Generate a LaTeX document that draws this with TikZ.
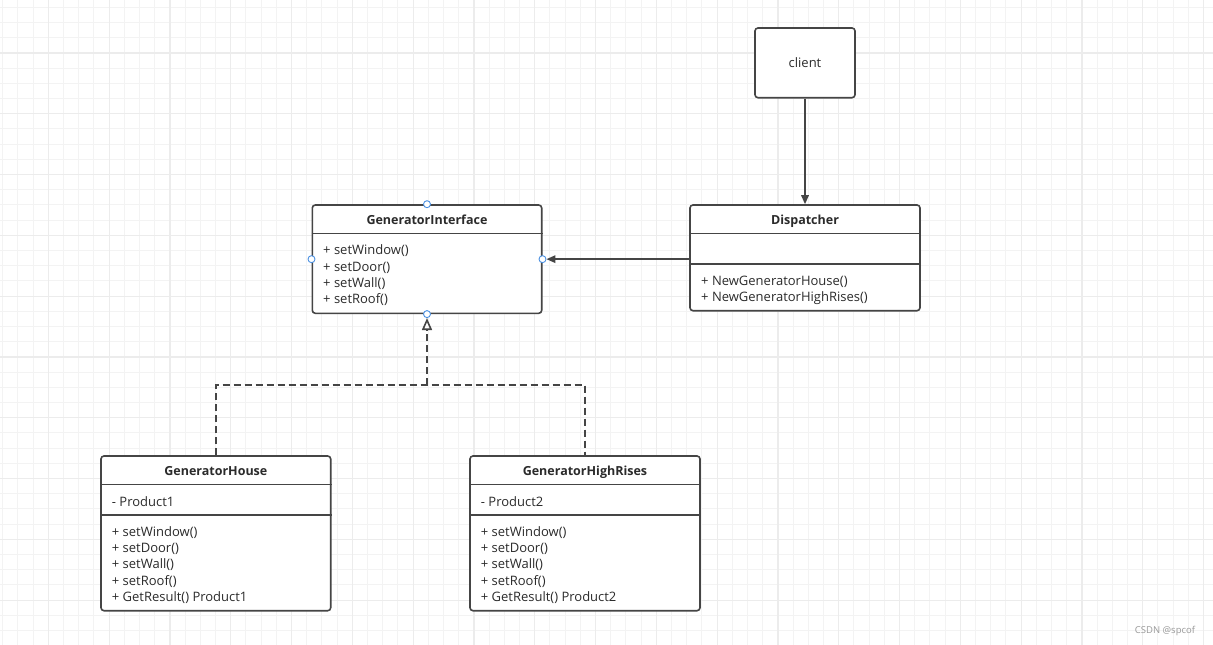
\documentclass[tikz,border=0pt]{standalone}
\usepackage{fontspec}
\setmainfont{Open Sans}
\usetikzlibrary{arrows.meta,positioning}
\definecolor{linegray}{HTML}{454545}
\definecolor{textgray}{HTML}{2B2B2B}
\definecolor{gridminor}{HTML}{F3F3F3}
\definecolor{gridmajor}{HTML}{ECECEC}
\definecolor{handleblue}{HTML}{4A90E2}
\tikzset{>={Triangle[width=7.5pt,length=9pt]}}
\tikzset{
  classbox/.style={draw=linegray, line width=1.6pt, rounded corners=3pt,
    fill=white, inner sep=0pt},
  classname/.style={font=\bfseries\fontsize{12.5}{15}\selectfont, text=textgray,
    inner sep=0pt, text height=9.4pt, text depth=0pt},
  member/.style={font=\fontsize{13}{15}\selectfont, text=textgray, anchor=west,
    inner sep=0pt, text height=9.3pt, text depth=0pt},
  handle/.style={circle, draw=handleblue, fill=white, line width=0.9pt,
    minimum size=7pt, inner sep=0pt},
  assoc/.style={draw=linegray, line width=1.6pt},
  realize/.style={draw=linegray, line width=1.6pt, dash pattern=on 7pt off 4pt},
}

\begin{document}
\begin{tikzpicture}[x=1pt,y=-1pt]

  %% canvas
  \useasboundingbox[fill=white] (0,0) rectangle (1213,645);
  \foreach \gx in {2.7,17.9,...,1213} \draw[gridminor, line width=1pt] (\gx,0) -- (\gx,645);
  \foreach \gy in {7.3,22.5,...,645} \draw[gridminor, line width=1pt] (0,\gy) -- (1213,\gy);
  \foreach \gx in {48.3,109.1,...,1213} \draw[gridmajor, line width=1.2pt] (\gx,0) -- (\gx,645);
  \foreach \gy in {52.9,113.7,...,645} \draw[gridmajor, line width=1.2pt] (0,\gy) -- (1213,\gy);

  %% client
  \node[classbox, minimum width=100pt, minimum height=69.7pt] (client) at (805,62.85) {};
  \node[member, anchor=center] (client-name) at (client.center) {client};

  %% interface
  \node[classbox, minimum width=229.4pt, minimum height=108.3pt] (gi) at (427,259.15) {};
  \node[classname] (gi-name) at ([yshift=-15.6pt]gi.north) {GeneratorInterface};
  \draw[assoc] ([yshift=-29.3pt]gi.north west) -- ([yshift=-29.3pt]gi.north east);
  \foreach \m [count=\k] in {setWindow(), setDoor(), setWall(), setRoof()}
    \node[member] (gi-m\k) at (323,233.6+16.4*\k) {+ \m};

  %% dispatcher
  \node[classbox, minimum width=230pt, minimum height=105.7pt] (disp) at (805,257.85) {};
  \node[classname] (disp-name) at ([yshift=-15.6pt]disp.north) {Dispatcher};
  \draw[assoc] ([yshift=-29.3pt]disp.north west) -- ([yshift=-29.3pt]disp.north east);
  \draw[assoc] ([yshift=-59.7pt]disp.north west) -- ([yshift=-59.7pt]disp.north east);
  \node[member] (disp-m1) at (701,280.5) {+ NewGeneratorHouse()};
  \node[member] (disp-m2) at (701,297) {+ NewGeneratorHighRises()};

  %% concrete generators
  \node[classbox, minimum width=229.7pt, minimum height=154.7pt] (house) at (215.85,533.35) {};
  \node[classname] (house-name) at ([yshift=-15.3pt]house.north) {GeneratorHouse};
  \draw[assoc] ([yshift=-29.3pt]house.north west) -- ([yshift=-29.3pt]house.north east);
  \draw[assoc] ([yshift=-59.7pt]house.north west) -- ([yshift=-59.7pt]house.north east);
  \node[member] (house-a1) at (111.7,501.5) {- Product1};
  \foreach \m [count=\k] in {setWindow(), setDoor(), setWall(), setRoof(), GetResult() Product1}
    \node[member] (house-m\k) at (111.7,515+16.4*\k) {+ \m};

  \node[classbox, minimum width=230pt, minimum height=154.7pt] (high) at (585,533.35) {};
  \node[classname] (high-name) at ([yshift=-15.3pt]high.north) {GeneratorHighRises};
  \draw[assoc] ([yshift=-29.3pt]high.north west) -- ([yshift=-29.3pt]high.north east);
  \draw[assoc] ([yshift=-59.7pt]high.north west) -- ([yshift=-59.7pt]high.north east);
  \node[member] (high-a1) at (480.7,501.5) {- Product2};
  \foreach \m [count=\k] in {setWindow(), setDoor(), setWall(), setRoof(), GetResult() Product2}
    \node[member] (high-m\k) at (480.7,515+16.4*\k) {+ \m};

  %% handles
  \node[handle] (gi-ht) at (gi.north) {};
  \node[handle] (gi-hl) at (gi.west) {};
  \node[handle] (gi-hr) at (gi.east) {};
  \node[handle] (gi-hb) at (gi.south) {};

  %% connectors
  \coordinate (bus) at (427,385);
  \draw[assoc, ->] (client) -- (disp);
  \draw[assoc, ->] (disp.west |- gi-hr) -- (gi-hr);
  \draw[realize] (house.north) |- (bus) -| (high.north);
  \draw[realize, -{Triangle[open, width=10pt, length=12pt, line width=1.6pt]}] (bus) -- (gi-hb);

  %% watermark
  \node[font=\fontsize{9.5}{11}\selectfont, text=black!40, inner sep=0pt] (mark) at (1165,631) {CSDN @spcof};

\end{tikzpicture}
\end{document}
